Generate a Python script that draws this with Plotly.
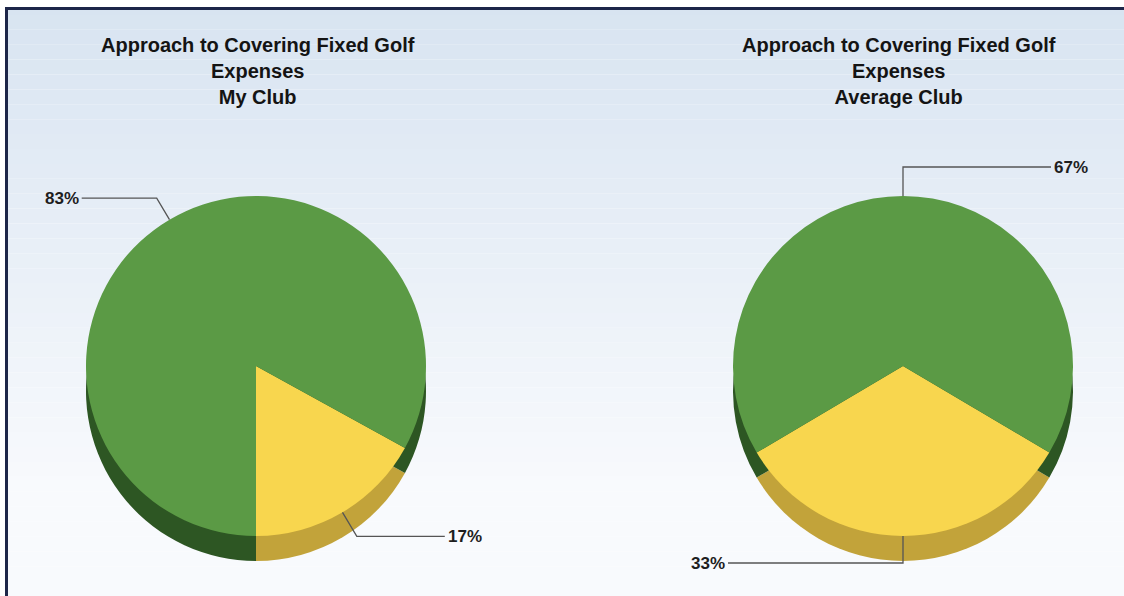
import math
import plotly.graph_objects as go

# ---------------- data ----------------
slice_labels = ["Other", "Golf Revenue"]
my_club_values = [17, 83]
avg_club_values = [33, 67]
pie_titles = ["Approach to Covering Fixed Golf<br>Expenses<br>My Club",
              "Approach to Covering Fixed Golf<br>Expenses<br>Average Club"]
value_suffix = "%"

# ---------------- styling ----------------
W, H = 1124, 596
top_colors = ["#f8d64e", "#5b9a45"]
side_colors = ["#c2a33a", "#2d5623"]
depth = 25
radius = 170
centers = [(256, 366), (903, 366)]
title_pos = [(258, 71), (899, 71)]
leader_side = [[+1, -1], [-1, +1]]
leader_ext = [[28, 25], [27, 29]]
leader_len = [[88, 75], [175, 148]]

series = [my_club_values, avg_club_values]

fig = go.Figure()

# background gradient
top_rgb = (216, 228, 241)
bot_rgb = (248, 250, 253)
nb = 40
for i in range(nb):
    t = i / (nb - 1)
    t2 = min(1.0, t * 1.2)
    c = tuple(int(round(top_rgb[k] + (bot_rgb[k] - top_rgb[k]) * t2)) for k in range(3))
    fig.add_shape(type="rect", xref="paper", yref="paper",
                  x0=0, x1=1, y0=1 - (i + 1) / nb, y1=1 - i / nb,
                  fillcolor="rgb(%d,%d,%d)" % c, line_width=0, layer="below")
# white strip outside the frame
fig.add_shape(type="rect", xref="x", yref="y", x0=0, x1=W, y0=0, y1=8,
              fillcolor="white", line_width=0, layer="below")
fig.add_shape(type="rect", xref="x", yref="y", x0=0, x1=6, y0=0, y1=H,
              fillcolor="white", line_width=0, layer="below")

for idx, vals in enumerate(series):
    total = sum(vals)
    first_span = 360.0 * vals[0] / total
    if idx == 0:
        rot = 180.0 - first_span
    else:
        rot = 180.0 - first_span / 2.0
    cx, cy = centers[idx]
    for colors, dy in [(side_colors, depth), (top_colors, 0)]:
        fig.add_trace(go.Pie(
            values=vals, labels=slice_labels, sort=False, direction="clockwise",
            rotation=rot, textinfo="none", hoverinfo="skip", showlegend=False,
            marker=dict(colors=colors, line=dict(width=0)),
            domain=dict(x=[(cx - radius) / W, (cx + radius) / W],
                        y=[1 - (cy + dy + radius) / H, 1 - (cy + dy - radius) / H]),
        ))
    # leader lines + labels
    cum = 0.0
    for j, v in enumerate(vals):
        a = math.radians(rot + 360.0 * (cum + v / 2.0) / total)
        cum += v
        ax, ay = cx + radius * math.sin(a), cy - radius * math.cos(a)
        ex = leader_ext[idx][j]
        bx, by = ax + ex * math.sin(a), ay - ex * math.cos(a)
        side = leader_side[idx][j]
        tx = bx + side * leader_len[idx][j]
        fig.add_shape(type="path", xref="x", yref="y",
                      path="M %.1f %.1f L %.1f %.1f L %.1f %.1f" % (ax, ay, bx, by, tx, by),
                      line=dict(color="#555555", width=1.3), layer="above")
        fig.add_annotation(x=tx + side * 1, y=by, xref="x", yref="y",
                           text="<b>%d%s</b>" % (v, value_suffix), showarrow=False,
                           xanchor="left" if side > 0 else "right", yanchor="middle",
                           font=dict(family="Liberation Sans, Arial", size=17, color="#1e1e1e"))
    fig.add_annotation(x=title_pos[idx][0], y=title_pos[idx][1], xref="x", yref="y",
                       text="<b>" + pie_titles[idx] + "</b>", showarrow=False,
                       xanchor="center", yanchor="middle", align="center",
                       font=dict(family="Liberation Sans, Arial", size=20, color="#141414"))

# frame (top and left edges visible)
fig.add_shape(type="line", xref="x", yref="y", x0=5, x1=W, y0=8.5, y1=8.5,
              line=dict(color="#1d2649", width=3), layer="above")
fig.add_shape(type="line", xref="x", yref="y", x0=6.5, x1=6.5, y0=7, y1=H,
              line=dict(color="#1d2649", width=3), layer="above")

fig.update_layout(
    width=W, height=H, margin=dict(l=0, r=0, t=0, b=0),
    paper_bgcolor="white", plot_bgcolor="rgba(0,0,0,0)",
    xaxis=dict(range=[0, W], visible=False, fixedrange=True),
    yaxis=dict(range=[H, 0], visible=False, fixedrange=True),
    showlegend=False,
)

fig.write_html("out.html", config={"displayModeBar": False},
               post_script="document.body.style.margin='0';document.body.style.overflow='hidden';")
